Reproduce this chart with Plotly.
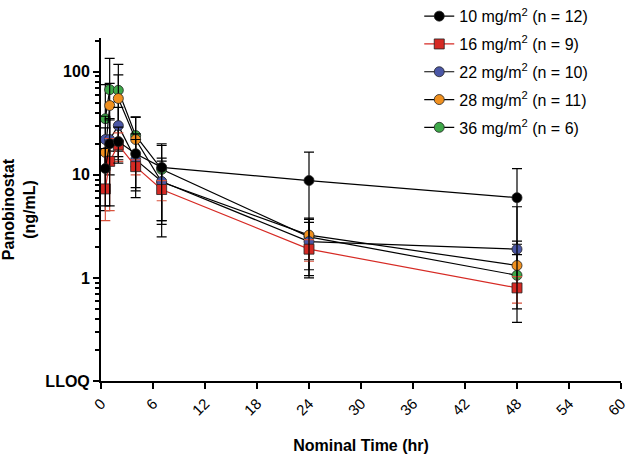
import plotly.graph_objects as go

# Nominal sampling times (hr)
times = [0.5, 1, 2, 4, 7, 24, 48]

# Series labels
labels = [
    "10 mg/m<sup>2</sup> (n = 12)",
    "16 mg/m<sup>2</sup> (n = 9)",
    "22 mg/m<sup>2</sup> (n = 10)",
    "28 mg/m<sup>2</sup> (n = 11)",
    "36 mg/m<sup>2</sup> (n = 6)",
]

# Mean concentrations (ng/mL)
mean_10 = [11.5, 20, 21, 16, 11.8, 8.8, 6.0]
mean_16 = [7.3, 13.5, 19.5, 12, 7.2, 1.9, 0.8]
mean_22 = [22, 22, 30, 14, 8.6, 2.25, 1.9]
mean_28 = [16.5, 47, 55, 22, 8.5, 2.6, 1.32]
mean_36 = [35, 67, 66, 24, 11.3, 2.5, 1.06]

# Upper error (SD) and lower error (0 where the lower end would be below zero)
up_10 = [6.5, 15, 8, 9, 8.2, 7.8, 5.5]
dn_10 = [6.5, 15, 8, 9, 8.2, 7.8, 5.5]
up_16 = [3.7, 9, 6, 2, 1.6, 0.45, 0.23]
dn_16 = [3.7, 9, 6, 2, 1.6, 0.45, 0.23]
up_22 = [15, 12, 15, 8, 5, 1.2, 0.22]
dn_22 = [15, 12, 15, 8, 5, 1.2, 0.22]
up_28 = [12, 30, 38, 14.5, 6, 1.1, 0.95]
dn_28 = [12, 30, 38, 14.5, 6, 1.1, 0.95]
up_36 = [40, 68, 52, 12, 8, 1.3, 3.84]
dn_36 = [0, 0, 52, 12, 8, 1.3, 0]

means = [mean_10, mean_16, mean_22, mean_28, mean_36]
ups = [up_10, up_16, up_22, up_28, up_36]
dns = [dn_10, dn_16, dn_22, dn_28, dn_36]
fills = ["#000000", "#d62a24", "#4b57a6", "#f0901f", "#3ea849"]
symbols = ["circle", "square", "circle", "circle", "circle"]
line_colors = ["#000000", "#d62a24", "#000000", "#000000", "#000000"]
err_colors = ["#000000", "#d9533e", "#000000", "#000000", "#000000"]

y_tickvals = [0.1, 1, 10, 100]
y_ticktext = ["<b>LLOQ</b>", "<b>1</b>", "<b>10</b>", "<b>100</b>"]
x_tickvals = [0, 6, 12, 18, 24, 30, 36, 42, 48, 54, 60]

fig = go.Figure()
draw_order = [4, 3, 2, 1, 0]
for i in draw_order:
    fig.add_trace(go.Scatter(
        x=times, y=means[i], name=labels[i], mode="lines+markers",
        legendgroup=str(i), legendrank=i,
        line=dict(color=line_colors[i], width=1.2),
        marker=dict(symbol=symbols[i], size=10, color=fills[i],
                    line=dict(color="#222222", width=0.8)),
        error_y=dict(type="data", symmetric=False, array=ups[i], arrayminus=dns[i],
                     color=err_colors[i], thickness=1.2, width=5),
    ))

minor_vals = [v * m for m in (0.1, 1, 10) for v in range(2, 10)] + [200]

fig.update_layout(
    width=631, height=457,
    margin=dict(l=101, r=10, t=38, b=76, autoexpand=False),
    paper_bgcolor="white", plot_bgcolor="white",
    font=dict(family="Liberation Sans, Arial, sans-serif", size=16, color="#000"),
    showlegend=True,
    legend=dict(x=0.612, y=1.113, xanchor="left", yanchor="top",
                font=dict(size=16), tracegroupgap=4, traceorder="grouped",
                bgcolor="rgba(255,255,255,0)"),
    xaxis=dict(range=[0, 60], tickvals=x_tickvals, tickangle=-45, automargin=False,
               showgrid=False, zeroline=False, showline=True, linecolor="#000",
               linewidth=2, ticks="outside", ticklen=6, tickwidth=2, tickcolor="#000",
               tickfont=dict(size=15),
               title=dict(text="<b>Nominal Time (hr)</b>", font=dict(size=16), standoff=22)),
    yaxis=dict(type="log", range=[-1, 2.327], tickvals=y_tickvals, ticktext=y_ticktext,
               automargin=False,
               showgrid=False, zeroline=False, showline=True, linecolor="#000",
               linewidth=2, ticks="outside", ticklen=6, tickwidth=2, tickcolor="#000",
               tickfont=dict(size=16),
               minor=dict(tickvals=minor_vals, ticks="outside", ticklen=4, tickwidth=1.5,
                          tickcolor="#000", showgrid=False),
               title=dict(text="<b>Panobinostat<br>(ng/mL)</b>", font=dict(size=16), standoff=8)),
)

fig.write_html("out.html", config={"displayModeBar": False},
               post_script="document.body.style.margin='0';")
